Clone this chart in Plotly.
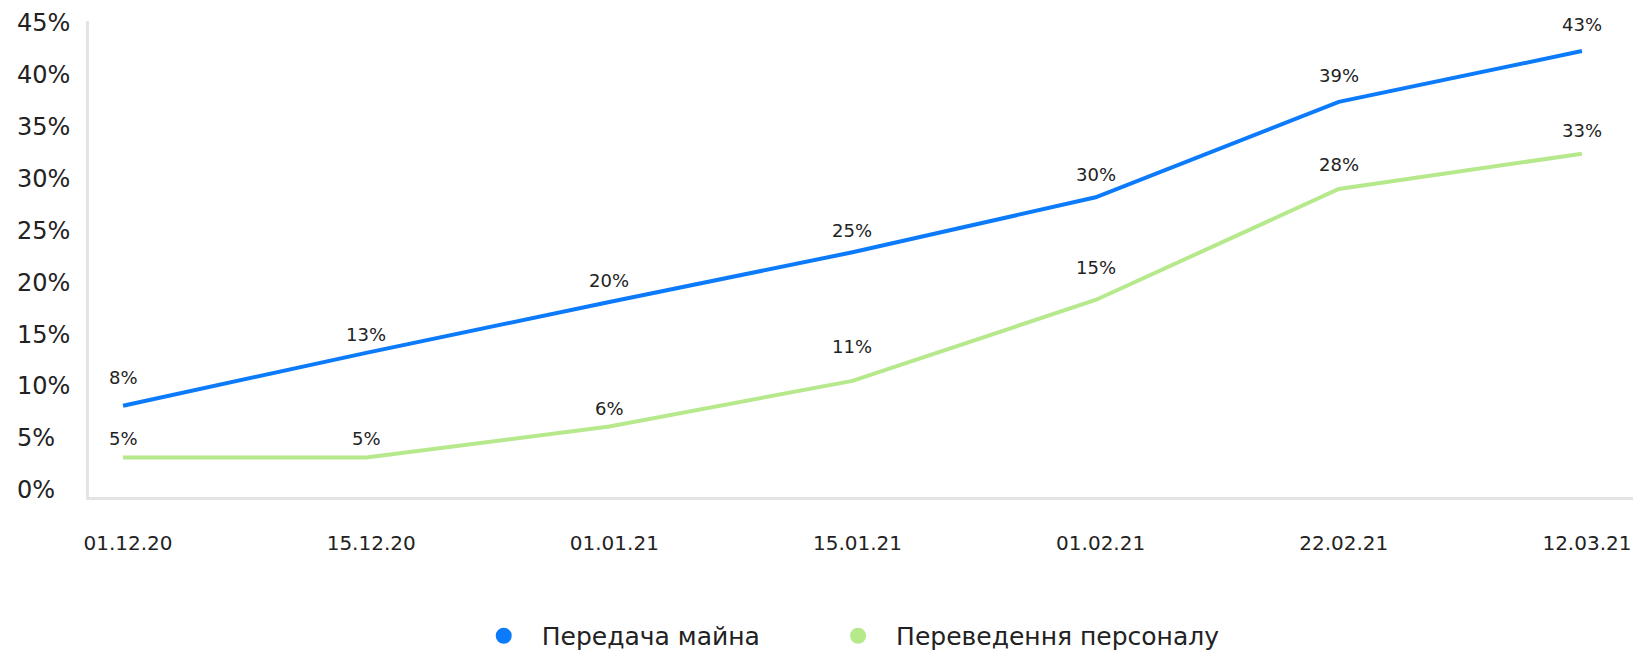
import plotly.graph_objects as go

dates = ["01.12.20", "15.12.20", "01.01.21", "15.01.21", "01.02.21", "22.02.21", "12.03.21"]
property_values = [8.1, 13.2, 18.1, 22.9, 28.2, 37.4, 42.3]
property_labels = ["8%", "13%", "20%", "25%", "30%", "39%", "43%"]
staff_values = [3.1, 3.1, 6.1, 10.5, 18.3, 29.0, 32.4]
staff_labels = ["5%", "5%", "6%", "11%", "15%", "28%", "33%"]
y_ticks = [0, 5, 10, 15, 20, 25, 30, 35, 40, 45]
y_tick_text = [f"{v}%" for v in y_ticks]

series_names = ["Передача майна", "Переведення персоналу"]
colors = ["#0B7BFB", "#B6E88C"]

# label vertical offsets (px) - style
prop_shift = [28, 18, 22, 22, 23, 26, 27]
staff_shift = [19, 19, 18, 34, 32, 25, 23]

FONT = "DejaVu Sans"
W, H = 1633, 654
L, T, B = 89, 21, 157

fig = go.Figure()
for vals, col in [(property_values, colors[0]), (staff_values, colors[1])]:
    fig.add_trace(go.Scatter(x=dates, y=vals, mode="lines", line=dict(color=col, width=4),
                             showlegend=False, hoverinfo="skip"))
for i, (name, col) in enumerate(zip(series_names, colors)):
    fig.add_trace(go.Scatter(x=[dates[0]], y=[None], mode="markers", name=name,
                             legend="legend" if i == 0 else "legend2",
                             marker=dict(color=col, size=20, symbol="circle")))

# invisible trace bound to the tick-label axis
fig.add_trace(go.Scatter(x=[dates[0]], y=[None], yaxis="y2", showlegend=False, hoverinfo="skip"))

annotations = []
for vals, labs, shifts in [(property_values, property_labels, prop_shift),
                           (staff_values, staff_labels, staff_shift)]:
    for d, v, t, s in zip(dates, vals, labs, shifts):
        annotations.append(dict(x=d, y=v, text=t, showarrow=False, yshift=s,
                                font=dict(size=18, color="#222222", family=FONT),
                                xanchor="center", yanchor="middle"))

legend_style = dict(orientation="h", xanchor="left", y=-0.292, yanchor="middle",
                    font=dict(size=25, color="#222222", family=FONT), itemwidth=66)

yr = [-0.7, 45.2]
fig.update_layout(
    width=W, height=H,
    margin=dict(l=0, r=0, t=T, b=B, autoexpand=False),
    paper_bgcolor="white", plot_bgcolor="white",
    font=dict(family=FONT, color="#222222"),
    xaxis=dict(domain=[L / W, 1], type="category", range=[-0.14, 6.21], automargin=False,
               showgrid=False, zeroline=False, showline=True, linecolor="#E3E3E3", linewidth=3,
               ticks="outside", ticklen=26, tickcolor="rgba(0,0,0,0)", ticklabelshift=5,
               tickfont=dict(size=20, color="#222222", family=FONT)),
    yaxis=dict(range=yr, showgrid=False, zeroline=False, showline=True, linecolor="#E3E3E3",
               linewidth=3, showticklabels=False, tickvals=y_ticks, automargin=False),
    yaxis2=dict(range=yr, overlaying="y", anchor="free", position=13 / W, side="left",
                tickvals=y_ticks, ticktext=y_tick_text, ticklabelposition="inside",
                ticklabeloverflow="allow", automargin=False,
                showgrid=False, zeroline=False, showline=False, ticks="",
                tickfont=dict(size=24, color="#222222", family=FONT)),
    legend=dict(x=0.2852, **legend_style),
    legend2=dict(x=0.5022, **legend_style),
    annotations=annotations,
)
fig.write_html("out.html", post_script="document.body.style.margin='0';",
               config={"displayModeBar": False})
